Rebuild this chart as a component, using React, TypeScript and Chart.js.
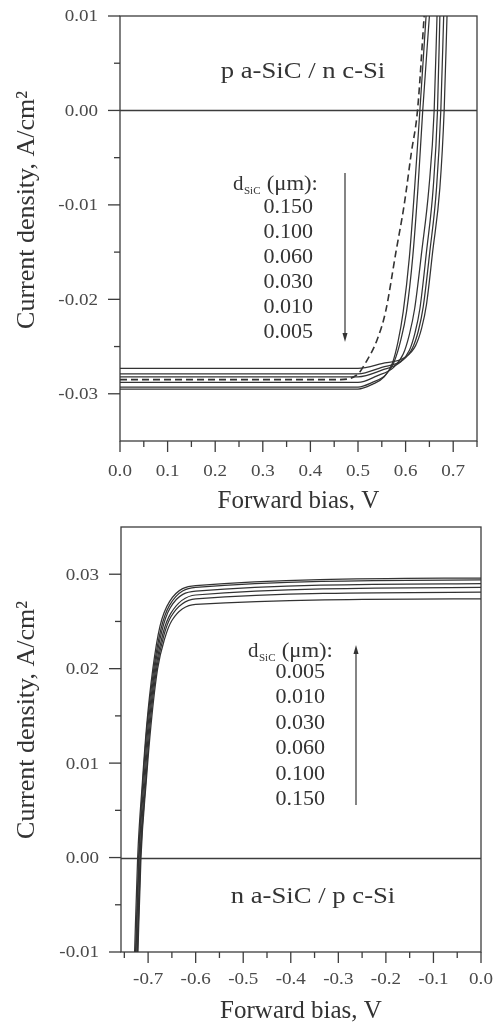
import React, { useEffect, useRef } from 'react';
import { Chart, registerables } from 'chart.js';

Chart.register(...registerables);

const SERIF = '"Liberation Serif", "DejaVu Serif", serif';
const INK = '#333333';
const AXIS = '#3c3c3c';
const LABEL = '#4a4a4a';

// ---------------- Top panel: p a-SiC / n c-Si ----------------
const topXTicks = [0, 0.1, 0.2, 0.3, 0.4, 0.5, 0.6, 0.7];
const topXTickLabels = ['0.0', '0.1', '0.2', '0.3', '0.4', '0.5', '0.6', '0.7'];
const topXMinor = [0.05, 0.15, 0.25, 0.35, 0.45, 0.55, 0.65, 0.75];
const topYTicks = [-0.03, -0.02, -0.01, 0, 0.01];
const topYTickLabels = ['-0.03', '-0.02', '-0.01', '0.00', '0.01'];
const topYMinor = [-0.025, -0.015, -0.005, 0.005];
const topThickness = ['0.150', '0.100', '0.060', '0.030', '0.010', '0.005'];

// [bias V, current density A/cm2]
const topCurve1 = [[0, -0.0295], [0.5, -0.0295], [0.53, -0.0290], [0.555, -0.0282], [0.572, -0.0268], [0.584, -0.0245], [0.595, -0.0213], [0.608, -0.0155], [0.619, -0.0082], [0.630, 0], [0.643, 0.01]];
const topCurve2 = [[0, -0.0293], [0.5, -0.0293], [0.53, -0.0288], [0.558, -0.0280], [0.576, -0.0266], [0.590, -0.0243], [0.602, -0.0213], [0.615, -0.0155], [0.626, -0.0082], [0.636, 0], [0.650, 0.01]];
const topCurve3 = [[0, -0.0288], [0.5, -0.0288], [0.54, -0.0281], [0.575, -0.0272], [0.595, -0.0258], [0.608, -0.0237], [0.619, -0.0210], [0.634, -0.0149], [0.649, -0.0082], [0.660, 0], [0.666, 0.01]];
const topCurve4 = [[0, -0.0282], [0.5, -0.0282], [0.55, -0.0275], [0.590, -0.0266], [0.608, -0.0254], [0.620, -0.0235], [0.630, -0.0210], [0.644, -0.0149], [0.658, -0.0082], [0.667, 0], [0.672, 0.01]];
const topCurve5 = [[0, -0.0279], [0.5, -0.0279], [0.55, -0.0272], [0.595, -0.0264], [0.615, -0.0251], [0.627, -0.0233], [0.637, -0.0208], [0.651, -0.0149], [0.665, -0.0082], [0.674, 0], [0.680, 0.01]];
const topCurve6 = [[0, -0.0273], [0.5, -0.0273], [0.55, -0.0268], [0.600, -0.0261], [0.621, -0.0249], [0.634, -0.0230], [0.644, -0.0205], [0.657, -0.0149], [0.672, -0.0082], [0.681, 0], [0.687, 0.01]];
const topCurveDashed = [[0, -0.0285], [0.46, -0.0285], [0.5, -0.0279], [0.515, -0.0268], [0.54, -0.0243], [0.558, -0.0213], [0.580, -0.0149], [0.597, -0.0100], [0.612, -0.0045], [0.625, 0], [0.639, 0.01]];

// ---------------- Bottom panel: n a-SiC / p c-Si ----------------
const botXTicks = [-0.7, -0.6, -0.5, -0.4, -0.3, -0.2, -0.1, 0];
const botXTickLabels = ['-0.7', '-0.6', '-0.5', '-0.4', '-0.3', '-0.2', '-0.1', '0.0'];
const botXMinor = [-0.75, -0.65, -0.55, -0.45, -0.35, -0.25, -0.15, -0.05];
const botYTicks = [-0.01, 0, 0.01, 0.02, 0.03];
const botYTickLabels = ['-0.01', '0.00', '0.01', '0.02', '0.03'];
const botYMinor = [-0.005, 0.005, 0.015, 0.025];
const botThickness = ['0.005', '0.010', '0.030', '0.060', '0.100', '0.150'];

const botCurve1 = [[-0.729, -0.011], [-0.722, 0], [-0.712, 0.008], [-0.703, 0.014], [-0.690, 0.020], [-0.675, 0.0245], [-0.655, 0.0271], [-0.60, 0.0288], [0, 0.0296]];
const botCurve2 = [[-0.727, -0.011], [-0.720, 0], [-0.711, 0.008], [-0.702, 0.014], [-0.688, 0.020], [-0.673, 0.0242], [-0.655, 0.0267], [-0.60, 0.0286], [0, 0.0294]];
const botCurve3 = [[-0.726, -0.011], [-0.719, 0], [-0.709, 0.008], [-0.700, 0.014], [-0.686, 0.020], [-0.671, 0.0240], [-0.654, 0.0264], [-0.60, 0.0282], [0, 0.0290]];
const botCurve4 = [[-0.724, -0.011], [-0.717, 0], [-0.707, 0.008], [-0.698, 0.014], [-0.684, 0.020], [-0.669, 0.0237], [-0.653, 0.0258], [-0.60, 0.0278], [0, 0.0286]];
const botCurve5 = [[-0.723, -0.011], [-0.716, 0], [-0.705, 0.008], [-0.696, 0.014], [-0.682, 0.020], [-0.667, 0.0235], [-0.652, 0.0255], [-0.60, 0.0274], [0, 0.0281]];
const botCurve6 = [[-0.722, -0.011], [-0.715, 0], [-0.704, 0.008], [-0.694, 0.014], [-0.680, 0.020], [-0.665, 0.0232], [-0.650, 0.0251], [-0.60, 0.0268], [0, 0.0274]];

type Pt = number[];

function toXY(arr: Pt[]) {
  return arr.map(([x, y]) => ({ x, y }));
}

function lineSet(arr: Pt[], dashed = false) {
  return {
    data: toXY(arr),
    showLine: true,
    borderColor: INK,
    borderWidth: dashed ? 1.6 : 1.25,
    borderDash: dashed ? [7, 4] : [],
    pointRadius: 0,
    fill: false,
    cubicInterpolationMode: 'monotone' as const,
  };
}

function txt(ctx: CanvasRenderingContext2D, s: string, x: number, y: number, size: number, o: any = {}) {
  ctx.save();
  ctx.translate(x, y);
  if (o.rot) ctx.rotate(o.rot);
  ctx.scale(o.sx ?? 1, 1);
  ctx.font = `${size}px ${SERIF}`;
  ctx.fillStyle = o.color ?? INK;
  ctx.textAlign = o.align ?? 'left';
  ctx.textBaseline = o.baseline ?? 'alphabetic';
  ctx.fillText(s, 0, 0);
  ctx.restore();
}

function measure(ctx: CanvasRenderingContext2D, s: string, size: number, sx = 1) {
  ctx.save();
  ctx.font = `${size}px ${SERIF}`;
  const w = ctx.measureText(s).width * sx;
  ctx.restore();
  return w;
}

function arrow(ctx: CanvasRenderingContext2D, x: number, yTail: number, yHead: number) {
  ctx.save();
  ctx.strokeStyle = INK;
  ctx.fillStyle = INK;
  ctx.lineWidth = 1.2;
  const dir = yHead > yTail ? 1 : -1;
  ctx.beginPath();
  ctx.moveTo(x, yTail);
  ctx.lineTo(x, yHead - dir * 6);
  ctx.stroke();
  ctx.beginPath();
  ctx.moveTo(x, yHead);
  ctx.lineTo(x - 2.5, yHead - dir * 9);
  ctx.lineTo(x + 2.5, yHead - dir * 9);
  ctx.closePath();
  ctx.fill();
  ctx.restore();
}

interface PanelCfg {
  id: string;
  xTicks: number[];
  xTickLabels: string[];
  xMinor: number[];
  yTicks: number[];
  yTickLabels: string[];
  yMinor: number[];
  thickness: string[];
  title: string;
  titleDx: number;
  titleDy: number;
  legendDx: number;
  legendDy: number;
  numRightDx: number;
  numDy: number;
  numStep: number;
  arrowDx: number;
  arrowTailDy: number;
  arrowHeadDy: number;
  xLabelDy: number;
}

function panelPlugin(c: PanelCfg) {
  return {
    id: 'decor_' + c.id,
    beforeDatasetsDraw(chart: any) {
      const { ctx, chartArea: a, scales } = chart;
      ctx.save();
      ctx.strokeStyle = AXIS;
      ctx.lineWidth = 1.3;
      ctx.strokeRect(a.left, a.top, a.right - a.left, a.bottom - a.top);
      const y0 = Math.round(scales.y.getPixelForValue(0)) + 0.5;
      ctx.beginPath();
      ctx.moveTo(a.left, y0);
      ctx.lineTo(a.right, y0);
      ctx.stroke();
      ctx.restore();
    },
    afterDraw(chart: any) {
      const { ctx, chartArea: a, scales } = chart;
      const sx = scales.x;
      const sy = scales.y;
      ctx.save();
      ctx.strokeStyle = AXIS;
      ctx.lineWidth = 1.3;
      c.xTicks.forEach((v) => {
        const px = sx.getPixelForValue(v);
        ctx.beginPath();
        ctx.moveTo(px, a.bottom);
        ctx.lineTo(px, a.bottom + 11);
        ctx.stroke();
      });
      c.xMinor.forEach((v) => {
        const px = sx.getPixelForValue(v);
        ctx.beginPath();
        ctx.moveTo(px, a.bottom);
        ctx.lineTo(px, a.bottom + 6);
        ctx.stroke();
      });
      c.yTicks.forEach((v) => {
        const py = sy.getPixelForValue(v);
        ctx.beginPath();
        ctx.moveTo(a.left, py);
        ctx.lineTo(a.left - 12, py);
        ctx.stroke();
      });
      c.yMinor.forEach((v) => {
        const py = sy.getPixelForValue(v);
        ctx.beginPath();
        ctx.moveTo(a.left, py);
        ctx.lineTo(a.left - 6, py);
        ctx.stroke();
      });
      ctx.restore();

      c.xTicks.forEach((v, i) => {
        txt(ctx, c.xTickLabels[i], sx.getPixelForValue(v), a.bottom + c.xLabelDy, 17, { align: 'center', baseline: 'middle', sx: 1.12, color: LABEL });
      });
      c.yTicks.forEach((v, i) => {
        txt(ctx, c.yTickLabels[i], a.left - 22, sy.getPixelForValue(v) + 1, 17, { align: 'right', baseline: 'middle', sx: 1.12, color: LABEL });
      });

      txt(ctx, 'Forward bias, V', (a.left + a.right) / 2, 508, 25, { align: 'center', color: INK });
      txt(ctx, 'Current density, A/cm²', 27, 210, 26, { align: 'center', baseline: 'middle', rot: -Math.PI / 2, color: INK });

      txt(ctx, c.title, a.left + c.titleDx, a.top + c.titleDy, 23, { align: 'center', sx: 1.16, color: INK });

      const lx = a.left + c.legendDx;
      const ly = a.top + c.legendDy;
      const wd = measure(ctx, 'd', 21);
      txt(ctx, 'd', lx, ly, 21);
      const wSub = measure(ctx, 'SiC', 11);
      txt(ctx, 'SiC', lx + wd + 0.5, ly + 4, 11);
      txt(ctx, ' (μm):', lx + wd + wSub + 1, ly, 21, { sx: 1.08 });
      c.thickness.forEach((s, i) => {
        txt(ctx, s, a.left + c.numRightDx, a.top + c.numDy + i * c.numStep, 21, { align: 'right', sx: 1.05 });
      });
      arrow(ctx, a.left + c.arrowDx, a.top + c.arrowTailDy, a.top + c.arrowHeadDy);
    },
  };
}

function makeConfig(datasets: any[], c: PanelCfg, xMin: number, xMax: number, yMin: number, yMax: number, yAxisWidth: number, xAxisHeight: number, padding: any) {
  return {
    type: 'scatter' as const,
    data: { datasets },
    options: {
      animation: false as const,
      responsive: false,
      maintainAspectRatio: false,
      layout: { padding },
      plugins: { legend: { display: false }, tooltip: { enabled: false }, title: { display: false } },
      scales: {
        x: {
          type: 'linear' as const,
          min: xMin,
          max: xMax,
          grid: { display: false, drawTicks: false },
          border: { display: false },
          ticks: { display: false },
          afterFit: (s: any) => { s.height = xAxisHeight; },
        },
        y: {
          type: 'linear' as const,
          min: yMin,
          max: yMax,
          grid: { display: false, drawTicks: false },
          border: { display: false },
          ticks: { display: false },
          afterFit: (s: any) => { s.width = yAxisWidth; },
        },
      },
    },
    plugins: [panelPlugin(c)],
  };
}

const topCfg: PanelCfg = {
  id: 'top',
  xTicks: topXTicks,
  xTickLabels: topXTickLabels,
  xMinor: topXMinor,
  yTicks: topYTicks,
  yTickLabels: topYTickLabels,
  yMinor: topYMinor,
  thickness: topThickness,
  title: 'p a-SiC / n c-Si',
  titleDx: 183,
  titleDy: 62,
  legendDx: 113,
  legendDy: 174,
  numRightDx: 193,
  numDy: 197,
  numStep: 25,
  arrowDx: 225,
  arrowTailDy: 157,
  arrowHeadDy: 326,
  xLabelDy: 31,
};

const botCfg: PanelCfg = {
  id: 'bottom',
  xTicks: botXTicks,
  xTickLabels: botXTickLabels,
  xMinor: botXMinor,
  yTicks: botYTicks,
  yTickLabels: botYTickLabels,
  yMinor: botYMinor,
  thickness: botThickness,
  title: 'n a-SiC / p c-Si',
  titleDx: 192,
  titleDy: 376,
  legendDx: 127,
  legendDy: 130,
  numRightDx: 204,
  numDy: 151,
  numStep: 25.4,
  arrowDx: 235,
  arrowTailDy: 278,
  arrowHeadDy: 118,
  xLabelDy: 28,
};

function Panel({ build, height }: { build: () => any; height: number }) {
  const ref = useRef<HTMLCanvasElement>(null);
  useEffect(() => {
    const chart = new Chart(ref.current as HTMLCanvasElement, build());
    return () => chart.destroy();
  }, []);
  return <canvas ref={ref} width={497} height={height} style={{ display: 'block', width: 497, height }} />;
}

export default function App() {
  const buildTop = () =>
    makeConfig(
      [topCurve1, topCurve2, topCurve3, topCurve4, topCurve5, topCurve6].map((d) => lineSet(d)).concat([lineSet(topCurveDashed, true)]),
      topCfg, 0, 0.75, -0.035, 0.01, 120, 69, { left: 0, top: 16, right: 20, bottom: 0 }
    );
  const buildBottom = () =>
    makeConfig(
      [botCurve1, botCurve2, botCurve3, botCurve4, botCurve5, botCurve6].map((d) => lineSet(d)),
      botCfg, -0.757, 0, -0.01, 0.035, 121, 70, { left: 0, top: 17, right: 16, bottom: 0 }
    );
  return (
    <div style={{ position: 'absolute', left: 0, top: 0, width: 497, height: 1022, background: '#ffffff' }}>
      <Panel build={buildTop} height={510} />
      <Panel build={buildBottom} height={512} />
    </div>
  );
}
